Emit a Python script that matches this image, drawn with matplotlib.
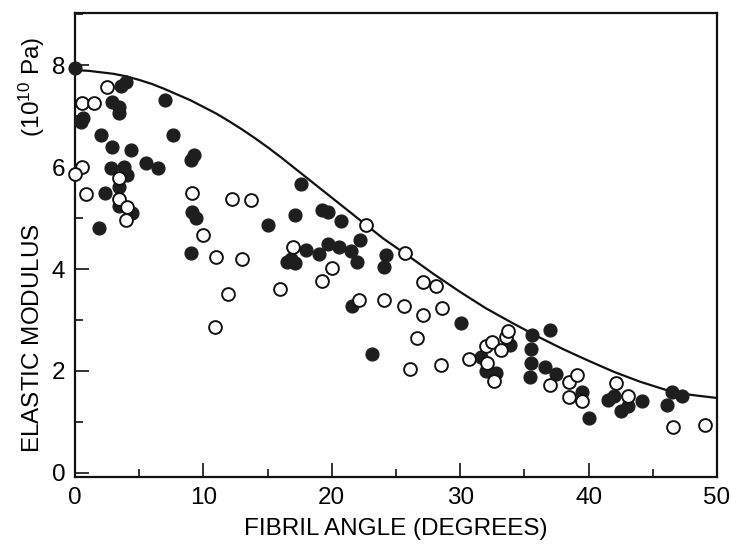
import matplotlib
matplotlib.use('Agg')
import matplotlib.pyplot as plt
from matplotlib.ticker import MultipleLocator

plt.rcParams['font.family'] = ['Liberation Sans', 'DejaVu Sans']
plt.rcParams['mathtext.default'] = 'regular'

# filled circles
filled_x = [0.0, 3.6, 4.0, 2.9, 3.4, 3.4, 0.6, 0.45, 7.0, 2.0, 7.6, 2.9, 4.4,
            9.3, 9.0, 5.5, 6.5, 2.8, 3.8, 4.05, 3.4, 2.35, 3.4, 4.45, 9.1, 9.4,
            1.9, 9.0, 15.0, 17.1, 17.6, 19.2, 19.7, 20.7, 22.2, 16.5, 17.1, 16.8,
            18.0, 19.0, 19.7, 20.6, 21.5, 22.0, 24.2, 24.1, 21.6, 23.1, 30.1,
            31.6, 33.9, 32.0, 32.8, 35.6, 37.0, 35.5, 35.5, 35.4, 36.6, 37.5,
            39.5, 40.0, 41.5, 42.0, 42.5, 43.1, 44.2, 46.5, 47.3, 46.1]
filled_y = [7.95, 7.6, 7.66, 7.27, 7.18, 7.06, 6.97, 6.88, 7.31, 6.63, 6.63, 6.39, 6.33,
            6.24, 6.14, 6.08, 5.98, 5.98, 6.0, 5.84, 5.6, 5.5, 5.24, 5.1, 5.12, 5.0,
            4.8, 4.31, 4.87, 5.06, 5.67, 5.16, 5.12, 4.94, 4.57, 4.14, 4.12, 4.2,
            4.37, 4.29, 4.49, 4.43, 4.36, 4.14, 4.27, 4.04, 3.27, 2.33, 2.94,
            2.27, 2.51, 2.0, 1.96, 2.71, 2.8, 2.43, 2.16, 1.88, 2.08, 1.94,
            1.59, 1.08, 1.43, 1.51, 1.22, 1.31, 1.41, 1.59, 1.51, 1.33]

# open circles
open_x = [2.5, 0.55, 1.5, 0.55, 0.0, 0.85, 3.4, 3.4, 4.05, 4.0, 9.1, 10.0, 12.2,
          13.7, 11.0, 13.0, 17.0, 11.9, 10.9, 16.0, 19.2, 20.0, 22.1, 22.7, 25.7,
          24.1, 25.6, 27.1, 27.1, 28.1, 28.6, 26.6, 26.1, 28.5, 30.7, 32.0, 32.5,
          33.2, 33.6, 33.7, 32.1, 32.6, 37.0, 38.5, 39.1, 38.5, 39.5, 42.1, 43.1,
          46.6, 49.1]
open_y = [7.57, 7.25, 7.25, 6.0, 5.86, 5.47, 5.78, 5.37, 5.22, 4.96, 5.49, 4.67, 5.37,
          5.36, 4.24, 4.2, 4.43, 3.51, 2.86, 3.6, 3.76, 4.02, 3.39, 4.86, 4.31,
          3.39, 3.27, 3.1, 3.75, 3.67, 3.24, 2.65, 2.04, 2.12, 2.24, 2.49, 2.57,
          2.41, 2.67, 2.78, 2.16, 1.8, 1.73, 1.78, 1.92, 1.49, 1.41, 1.76, 1.51,
          0.9, 0.94]

# theoretical curve
curve_x = [0, 1, 2, 3, 4, 5, 6, 7, 8, 9, 10, 11, 12, 13, 14, 15, 16, 17, 18,
           20, 22, 24, 26, 28, 30, 32, 34, 36, 38, 40, 42, 44, 46, 48, 50]
curve_y = [7.9, 7.89, 7.86, 7.83, 7.78, 7.71, 7.63, 7.53, 7.42, 7.31, 7.18, 7.05,
           6.9, 6.74, 6.57, 6.39, 6.2, 6.0, 5.8, 5.4, 5.0, 4.6, 4.25, 3.89, 3.55,
           3.23, 2.95, 2.68, 2.43, 2.2, 1.98, 1.79, 1.63, 1.53, 1.47]

fig = plt.figure(figsize=(7.31, 5.48), dpi=100)
ax = fig.add_axes([0.1026, 0.1296, 0.8782, 0.8464])

ax.plot(curve_x, curve_y, color='#111111', lw=1.6, zorder=2)
ax.plot(filled_x, filled_y, 'o', ms=9.2, mfc='#1e1e1e', mec='#1e1e1e', mew=1.0,
        clip_on=False, zorder=3)
ax.plot(open_x, open_y, 'o', ms=9.2, mfc='white', mec='#111111', mew=1.4,
        clip_on=False, zorder=4)

ax.set_xlim(0, 50)
ax.set_ylim(-0.08, 9.02)
ax.xaxis.set_major_locator(MultipleLocator(10))
ax.xaxis.set_minor_locator(MultipleLocator(5))
ax.yaxis.set_major_locator(MultipleLocator(2))
ax.yaxis.set_minor_locator(MultipleLocator(1))
ax.tick_params(which='both', direction='in', top=False, right=False,
               width=1.2, color='#111111')
ax.tick_params(which='major', length=10, labelsize=17.5, pad=7)
ax.tick_params(which='minor', length=6)
for s in ax.spines.values():
    s.set_linewidth(1.6)
    s.set_color('#111111')

ax.set_xlabel('FIBRIL ANGLE (DEGREES)', fontsize=17.5, labelpad=7)
ax.set_ylabel('ELASTIC MODULUS' + ' ' * 13 + '(10$^{10}$ Pa)', fontsize=17.5,
              labelpad=3)

fig.savefig('out.png', dpi=100)
